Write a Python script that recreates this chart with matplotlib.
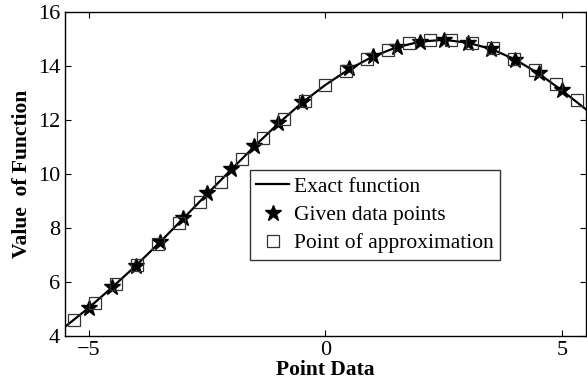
import numpy as np
import matplotlib
matplotlib.use("Agg")
import matplotlib.pyplot as plt

plt.rcParams['font.family'] = ['Liberation Serif', 'DejaVu Serif']
plt.rcParams['mathtext.fontset'] = 'stix'

# exact function
curve_x = [-5.5, -5.0, -4.5, -4.0, -3.5, -3.0, -2.5, -2.0, -1.5, -1.0, -0.5,
           0.0, 0.5, 1.0, 1.5, 2.0, 2.5, 3.0, 3.5, 4.0, 4.5, 5.0, 5.5]
curve_y = [4.33, 5.03, 5.80, 6.60, 7.46, 8.35, 9.25, 10.14, 11.02, 11.86, 12.63,
           13.30, 13.88, 14.35, 14.69, 14.90, 14.97, 14.86, 14.63, 14.24, 13.72, 13.08, 12.39]

# given data points (stars)
data_x = [-5.0, -4.5, -4.0, -3.5, -3.0, -2.5, -2.0, -1.5, -1.0, -0.5,
          0.5, 1.0, 1.5, 2.0, 2.5, 3.0, 3.5, 4.0, 4.5, 5.0]
data_y = [5.03, 5.80, 6.60, 7.46, 8.37, 9.28, 10.17, 11.03, 11.90, 12.67,
          13.91, 14.38, 14.71, 14.90, 14.96, 14.84, 14.62, 14.22, 13.73, 13.11]

# points of approximation (squares)
approx_x = [-5.3, -4.858, -4.417, -3.975, -3.533, -3.092, -2.65, -2.208, -1.767,
            -1.325, -0.883, -0.442, 0.0, 0.442, 0.883, 1.325, 1.767, 2.208,
            2.65, 3.092, 3.533, 3.975, 4.417, 4.858, 5.3]
approx_y = [4.58, 5.22, 5.91, 6.63, 7.39, 8.19, 8.96, 9.71, 10.54,
            11.32, 12.02, 12.70, 13.29, 13.82, 14.26, 14.59, 14.86, 14.96,
            14.96, 14.84, 14.65, 14.26, 13.85, 13.33, 12.74]

fig = plt.figure(figsize=(5.87, 3.83), dpi=100)
ax = fig.add_axes([0.1107, 0.1235, 0.8876, 0.8452])

ax.plot(curve_x, curve_y, color='k', linewidth=1.6, label='Exact function')
ax.plot(data_x, data_y, linestyle='none', marker='*', color='k', markersize=12,
        label='Given data points')
ax.plot(approx_x, approx_y, linestyle='none', marker='s', markerfacecolor='none',
        markeredgecolor='#333333', markeredgewidth=0.9, markersize=8,
        label='Point of approximation')

ax.set_xlim(-5.5, 5.5)
ax.set_ylim(4, 16)
ax.set_xticks([-5, 0, 5])
ax.set_xticklabels(['\u22125', '0', '5'])
ax.set_yticks([4, 6, 8, 10, 12, 14, 16])
ax.tick_params(direction='in', top=True, right=True, labelsize=16, length=4, width=0.8)
ax.tick_params(axis='x', pad=4)
for s in ax.spines.values():
    s.set_linewidth(1.0)

ax.set_xlabel('Point Data', fontsize=15.5, fontweight='bold', labelpad=0)
ax.set_ylabel('Value  of Function', fontsize=15.5, fontweight='bold', labelpad=4)

leg = ax.legend(loc='lower left', bbox_to_anchor=(0.355, 0.234), fontsize=15.5,
                frameon=True, fancybox=False, edgecolor='k', handlelength=1.5,
                handletextpad=0.25, borderpad=0.3, labelspacing=0.38,
                borderaxespad=0)
leg.get_frame().set_linewidth(1.0)

fig.savefig('out.png', dpi=100)
